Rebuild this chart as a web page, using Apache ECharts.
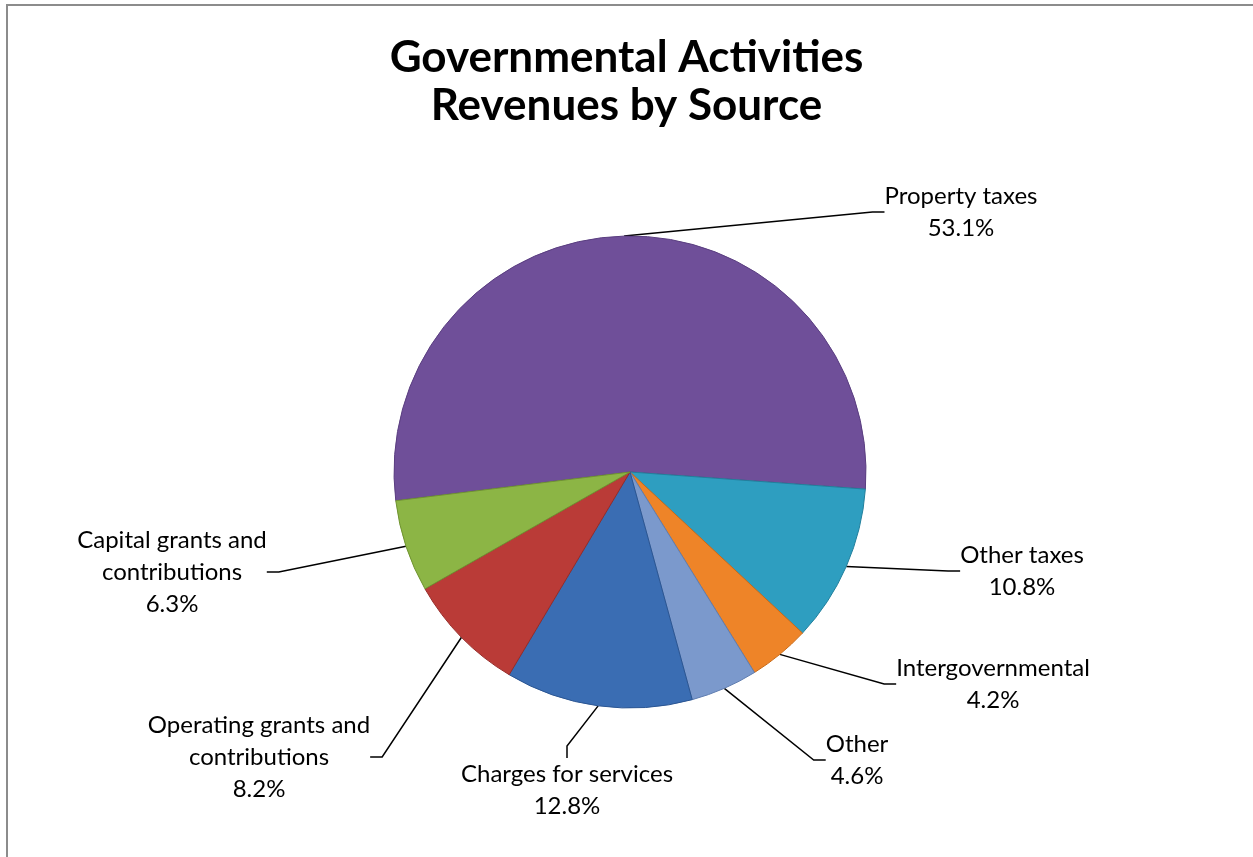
<!DOCTYPE html>
<html>
<head>
<meta charset="utf-8">
<script src="https://cdn.jsdelivr.net/npm/echarts@6/dist/echarts.min.js"></script>
<style>
  html, body { margin: 0; padding: 0; background: #fff; }
  #frame { position: absolute; left: 6px; top: 4px; width: 1247px; height: 853px;
           border-left: 2px solid #8c8c8c; border-top: 2px solid #8c8c8c; box-sizing: border-box; }
  #chart { position: absolute; left: 0; top: 0; width: 1253px; height: 857px; }
</style>
</head>
<body>
<div id="frame"></div>
<div id="chart"></div>
<script>
// ---- data ----
const titleLines = ['Governmental Activities', 'Revenues by Source'];
const categories = [
  'Property taxes',
  'Other taxes',
  'Intergovernmental',
  'Other',
  'Charges for services',
  'Operating grants and\ncontributions',
  'Capital grants and\ncontributions'
];
const shares = [53.1, 10.8, 4.2, 4.6, 12.8, 8.2, 6.3];

// ---- styling / layout (not data) ----
const sliceColors = ['#6F4F99', '#2E9EC0', '#EE8428', '#7B99CC', '#3A6DB3', '#BA3B37', '#8CB545'];
const sliceBorders = ['#5A3E80', '#217F9C', '#C96A17', '#5F7DB0', '#2A5592', '#962B28', '#6F9330'];
const labelCenters = [
  [961, 212], [1022, 571], [993, 684], [857, 760], [567, 790], [259, 757], [172, 572]
];

const chart = echarts.init(document.getElementById('chart'), null, { renderer: 'canvas' });

chart.setOption({
  animation: false,
  backgroundColor: 'transparent',
  title: {
    text: titleLines.join('\n'),
    left: 'center',
    top: 29,
    textStyle: {
      fontFamily: 'Lato',
      fontWeight: 'bold',
      fontSize: 44,
      lineHeight: 48,
      color: '#000'
    }
  },
  series: [{
    type: 'pie',
    center: [630, 472],
    radius: 236,
    startAngle: 187,
    clockwise: true,
    avoidLabelOverlap: false,
    data: categories.map((name, i) => ({
      name: name,
      value: shares[i],
      itemStyle: { color: sliceColors[i], borderColor: sliceBorders[i], borderWidth: 1 }
    })),
    label: {
      show: true,
      position: 'outside',
      formatter: p => p.name + '\n' + p.value.toFixed(1) + '%',
      fontFamily: 'Lato',
      fontSize: 24,
      lineHeight: 32,
      color: '#000',
      align: 'center'
    },
    labelLine: {
      show: true,
      length: 20,
      length2: 12,
      smooth: false,
      lineStyle: { color: '#000', width: 1.5 }
    },
    labelLayout: function (params) {
      const c = labelCenters[params.dataIndex];
      return { x: c[0], y: c[1], align: 'center', verticalAlign: 'middle' };
    },
    emphasis: { disabled: true }
  }]
});
</script>
</body>
</html>
